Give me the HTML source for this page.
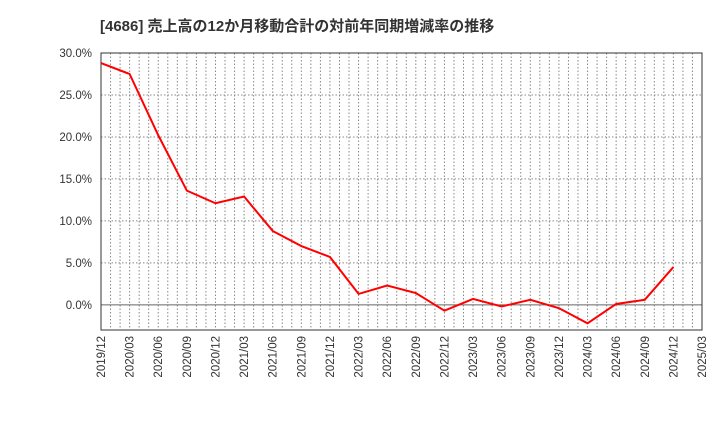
<!DOCTYPE html>
<html><head><meta charset="utf-8"><style>
body{margin:0;background:#fff;font-family:"Liberation Sans","Noto Sans CJK JP",sans-serif;}
</style></head><body>
<svg width="720" height="440" xmlns="http://www.w3.org/2000/svg">
<text x="100" y="31" font-size="15" font-weight="bold" fill="#333" font-family="Liberation Sans,Noto Sans CJK JP,sans-serif">[4686]  売上高の12か月移動合計の対前年同期増減率の推移</text>
<g id="grid"></g><g id="axes"></g>
<polyline id="line" fill="none" stroke="#ff0000" stroke-width="2"/>
</svg>
<script>
const categories=["2019/12","2020/03","2020/06","2020/09","2020/12","2021/03","2021/06","2021/09","2021/12","2022/03","2022/06","2022/09","2022/12","2023/03","2023/06","2023/09","2023/12","2024/03","2024/06","2024/09","2024/12","2025/03"];
const values=[28.8,27.5,20.2,13.6,12.1,12.9,8.8,7.0,5.7,1.3,2.3,1.4,-0.7,0.7,-0.2,0.6,-0.4,-2.2,0.1,0.6,4.5];
const yTicks=[0,5,10,15,20,25,30];
const L=101,R=702,T=53,B=330,yMin=-3,yMax=30;
const NS="http://www.w3.org/2000/svg";
const xs=i=>L+(R-L)*i/(categories.length-1);
const ys=v=>T+(yMax-v)/(yMax-yMin)*(B-T);
const grid=document.getElementById('grid'),axes=document.getElementById('axes');
function mk(tag,attrs,parent){const e=document.createElementNS(NS,tag);for(const k in attrs)e.setAttribute(k,attrs[k]);parent.appendChild(e);return e;}
const nMonths=(categories.length-1)*3;
for(let m=1;m<nMonths;m++){const x=L+(R-L)*m/nMonths;
const g=mk('line',{x1:x,x2:x,y1:T,y2:B,stroke:'#888','stroke-dasharray':'1.5,2','stroke-width':1},grid);

}
yTicks.forEach(v=>{const y=ys(v);
const g=mk('line',{x1:L,x2:R,y1:y,y2:y,stroke:v===0?'#666':'#888','stroke-dasharray':v===0?'none':'1.5,2','stroke-width':1},grid);


const t=mk('text',{x:L-9,y:y+4,'text-anchor':'end','font-size':11.5,fill:'#333'},axes);t.textContent=v.toFixed(1)+'%';

});
categories.forEach((c,i)=>{const x=xs(i);
const t=mk('text',{x:x+4,y:B+6,'text-anchor':'end','font-size':11.5,fill:'#333',transform:`rotate(-90 ${x+4} ${B+6})`},axes);t.textContent=c;

});
const fr=mk('rect',{x:L,y:T,width:R-L,height:B-T,fill:'none',stroke:'#333','stroke-width':1},axes);


document.getElementById('line').setAttribute('points',values.map((v,i)=>xs(i)+','+ys(v)).join(' '));
</script>
</body></html>
